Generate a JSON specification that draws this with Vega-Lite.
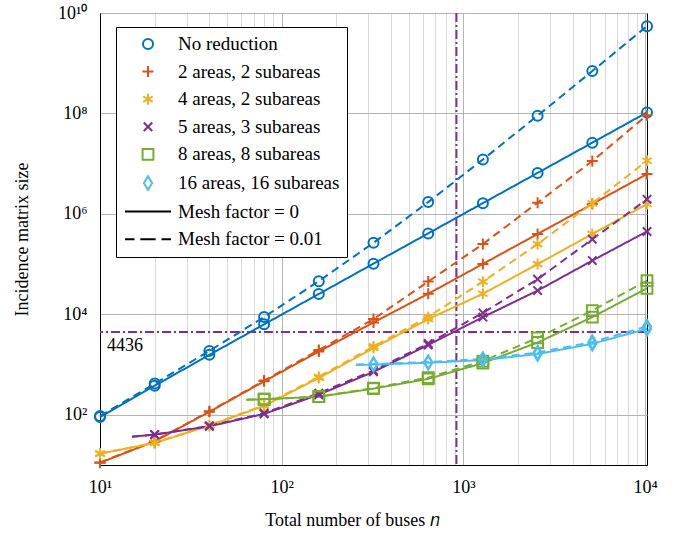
{
  "$schema": "https://vega.github.io/schema/vega-lite/v6.json",
  "width": 547,
  "height": 452,
  "autosize": {"type": "none"},
  "padding": {"left": 100, "top": 13, "right": 41, "bottom": 71},
  "background": "white",
  "config": {
    "view": {"stroke": "black", "strokeWidth": 1},
    "axis": {
      "labelFontSize": 18,
      "labelColor": "black",
      "titleFontSize": 18,
      "titleFontWeight": "normal",
      "titleColor": "black",
      "domainColor": "black",
      "ticks": false,
      "labelOverlap": false,
      "labelFlush": false,
      "labelBound": false
    }
  },
  "datasets": {
    "curves": [
      {"s": "No reduction", "m": "0", "n": 10, "v": 90, "k": 1},
      {"s": "No reduction", "m": "0", "n": 20, "v": 380, "k": 1},
      {"s": "No reduction", "m": "0", "n": 40, "v": 1560, "k": 1},
      {"s": "No reduction", "m": "0", "n": 80, "v": 6320, "k": 1},
      {"s": "No reduction", "m": "0", "n": 160, "v": 25440, "k": 1},
      {"s": "No reduction", "m": "0", "n": 320, "v": 102080, "k": 1},
      {"s": "No reduction", "m": "0", "n": 640, "v": 408960, "k": 1},
      {"s": "No reduction", "m": "0", "n": 1280, "v": 1637120, "k": 1},
      {"s": "No reduction", "m": "0", "n": 2560, "v": 6551040, "k": 1},
      {"s": "No reduction", "m": "0", "n": 5120, "v": 26209280, "k": 1},
      {"s": "No reduction", "m": "0", "n": 10240, "v": 104847360, "k": 1},
      {"s": "No reduction", "m": "0.01", "n": 10, "v": 94.5, "k": 1},
      {"s": "No reduction", "m": "0.01", "n": 20, "v": 418, "k": 1},
      {"s": "No reduction", "m": "0.01", "n": 40, "v": 1872, "k": 1},
      {"s": "No reduction", "m": "0.01", "n": 80, "v": 8848, "k": 1},
      {"s": "No reduction", "m": "0.01", "n": 160, "v": 45792, "k": 1},
      {"s": "No reduction", "m": "0.01", "n": 320, "v": 265408, "k": 1},
      {"s": "No reduction", "m": "0.01", "n": 640, "v": 1717632, "k": 1},
      {"s": "No reduction", "m": "0.01", "n": 1280, "v": 12114688, "k": 1},
      {"s": "No reduction", "m": "0.01", "n": 2560, "v": 90404352, "k": 1},
      {"s": "No reduction", "m": "0.01", "n": 5120, "v": 697166848, "k": 1},
      {"s": "No reduction", "m": "0.01", "n": 10240, "v": 5473032192, "k": 1},

      {"s": "2 areas, 2 subareas", "m": "0", "n": 10, "v": 11.1, "k": 1},
      {"s": "2 areas, 2 subareas", "m": "0", "n": 20, "v": 29.5, "k": 1},
      {"s": "2 areas, 2 subareas", "m": "0", "n": 40, "v": 115, "k": 1},
      {"s": "2 areas, 2 subareas", "m": "0", "n": 80, "v": 463, "k": 1},
      {"s": "2 areas, 2 subareas", "m": "0", "n": 160, "v": 1820, "k": 1},
      {"s": "2 areas, 2 subareas", "m": "0", "n": 320, "v": 6900, "k": 1},
      {"s": "2 areas, 2 subareas", "m": "0", "n": 640, "v": 25700, "k": 1},
      {"s": "2 areas, 2 subareas", "m": "0", "n": 1280, "v": 101000, "k": 1},
      {"s": "2 areas, 2 subareas", "m": "0", "n": 2560, "v": 398000, "k": 1},
      {"s": "2 areas, 2 subareas", "m": "0", "n": 5120, "v": 1575000, "k": 1},
      {"s": "2 areas, 2 subareas", "m": "0", "n": 10240, "v": 6210000, "k": 1},
      {"s": "2 areas, 2 subareas", "m": "0.01", "n": 10, "v": 11.2, "k": 1},
      {"s": "2 areas, 2 subareas", "m": "0.01", "n": 20, "v": 30.2, "k": 1},
      {"s": "2 areas, 2 subareas", "m": "0.01", "n": 40, "v": 117, "k": 1},
      {"s": "2 areas, 2 subareas", "m": "0.01", "n": 80, "v": 479, "k": 1},
      {"s": "2 areas, 2 subareas", "m": "0.01", "n": 160, "v": 1950, "k": 1},
      {"s": "2 areas, 2 subareas", "m": "0.01", "n": 320, "v": 8040, "k": 1},
      {"s": "2 areas, 2 subareas", "m": "0.01", "n": 640, "v": 45000, "k": 1},
      {"s": "2 areas, 2 subareas", "m": "0.01", "n": 1280, "v": 251000, "k": 1},
      {"s": "2 areas, 2 subareas", "m": "0.01", "n": 2560, "v": 1670000, "k": 1},
      {"s": "2 areas, 2 subareas", "m": "0.01", "n": 5120, "v": 11270000, "k": 1},
      {"s": "2 areas, 2 subareas", "m": "0.01", "n": 10240, "v": 92500000, "k": 1},

      {"s": "4 areas, 2 subareas", "m": "0", "n": 10, "v": 16.8, "k": 1},
      {"s": "4 areas, 2 subareas", "m": "0", "n": 20, "v": 27.5, "k": 1},
      {"s": "4 areas, 2 subareas", "m": "0", "n": 40, "v": 60.7, "k": 1},
      {"s": "4 areas, 2 subareas", "m": "0", "n": 80, "v": 151, "k": 1},
      {"s": "4 areas, 2 subareas", "m": "0", "n": 160, "v": 540, "k": 1},
      {"s": "4 areas, 2 subareas", "m": "0", "n": 320, "v": 2140, "k": 1},
      {"s": "4 areas, 2 subareas", "m": "0", "n": 640, "v": 8040, "k": 1},
      {"s": "4 areas, 2 subareas", "m": "0", "n": 1280, "v": 25700, "k": 1},
      {"s": "4 areas, 2 subareas", "m": "0", "n": 2560, "v": 100000, "k": 1},
      {"s": "4 areas, 2 subareas", "m": "0", "n": 5120, "v": 398000, "k": 1},
      {"s": "4 areas, 2 subareas", "m": "0", "n": 10240, "v": 1574000, "k": 1},
      {"s": "4 areas, 2 subareas", "m": "0.01", "n": 10, "v": 16.9, "k": 1},
      {"s": "4 areas, 2 subareas", "m": "0.01", "n": 20, "v": 27.8, "k": 1},
      {"s": "4 areas, 2 subareas", "m": "0.01", "n": 40, "v": 61.5, "k": 1},
      {"s": "4 areas, 2 subareas", "m": "0.01", "n": 80, "v": 155, "k": 1},
      {"s": "4 areas, 2 subareas", "m": "0.01", "n": 160, "v": 570, "k": 1},
      {"s": "4 areas, 2 subareas", "m": "0.01", "n": 320, "v": 2290, "k": 1},
      {"s": "4 areas, 2 subareas", "m": "0.01", "n": 640, "v": 8900, "k": 1},
      {"s": "4 areas, 2 subareas", "m": "0.01", "n": 1280, "v": 44700, "k": 1},
      {"s": "4 areas, 2 subareas", "m": "0.01", "n": 2560, "v": 251000, "k": 1},
      {"s": "4 areas, 2 subareas", "m": "0.01", "n": 5120, "v": 1625000, "k": 1},
      {"s": "4 areas, 2 subareas", "m": "0.01", "n": 10240, "v": 11430000, "k": 1},

      {"s": "5 areas, 3 subareas", "m": "0", "n": 15, "v": 36.7, "k": 0},
      {"s": "5 areas, 3 subareas", "m": "0", "n": 20, "v": 40.3, "k": 1},
      {"s": "5 areas, 3 subareas", "m": "0", "n": 40, "v": 58.9, "k": 1},
      {"s": "5 areas, 3 subareas", "m": "0", "n": 80, "v": 104, "k": 1},
      {"s": "5 areas, 3 subareas", "m": "0", "n": 160, "v": 251, "k": 1},
      {"s": "5 areas, 3 subareas", "m": "0", "n": 320, "v": 716, "k": 1},
      {"s": "5 areas, 3 subareas", "m": "0", "n": 640, "v": 2455, "k": 1},
      {"s": "5 areas, 3 subareas", "m": "0", "n": 1280, "v": 8790, "k": 1},
      {"s": "5 areas, 3 subareas", "m": "0", "n": 2560, "v": 29700, "k": 1},
      {"s": "5 areas, 3 subareas", "m": "0", "n": 5120, "v": 117500, "k": 1},
      {"s": "5 areas, 3 subareas", "m": "0", "n": 10240, "v": 446700, "k": 1},
      {"s": "5 areas, 3 subareas", "m": "0.01", "n": 15, "v": 36.7, "k": 0},
      {"s": "5 areas, 3 subareas", "m": "0.01", "n": 20, "v": 40.3, "k": 1},
      {"s": "5 areas, 3 subareas", "m": "0.01", "n": 40, "v": 60.3, "k": 1},
      {"s": "5 areas, 3 subareas", "m": "0.01", "n": 80, "v": 107, "k": 1},
      {"s": "5 areas, 3 subareas", "m": "0.01", "n": 160, "v": 269, "k": 1},
      {"s": "5 areas, 3 subareas", "m": "0.01", "n": 320, "v": 760, "k": 1},
      {"s": "5 areas, 3 subareas", "m": "0.01", "n": 640, "v": 2630, "k": 1},
      {"s": "5 areas, 3 subareas", "m": "0.01", "n": 1280, "v": 10700, "k": 1},
      {"s": "5 areas, 3 subareas", "m": "0.01", "n": 2560, "v": 50100, "k": 1},
      {"s": "5 areas, 3 subareas", "m": "0.01", "n": 5120, "v": 312600, "k": 1},
      {"s": "5 areas, 3 subareas", "m": "0.01", "n": 10240, "v": 1950000, "k": 1},

      {"s": "8 areas, 8 subareas", "m": "0", "n": 64, "v": 200, "k": 0},
      {"s": "8 areas, 8 subareas", "m": "0", "n": 80, "v": 204, "k": 1},
      {"s": "8 areas, 8 subareas", "m": "0", "n": 160, "v": 229, "k": 1},
      {"s": "8 areas, 8 subareas", "m": "0", "n": 320, "v": 331, "k": 1},
      {"s": "8 areas, 8 subareas", "m": "0", "n": 640, "v": 519, "k": 1},
      {"s": "8 areas, 8 subareas", "m": "0", "n": 1280, "v": 1070, "k": 1},
      {"s": "8 areas, 8 subareas", "m": "0", "n": 2560, "v": 2750, "k": 1},
      {"s": "8 areas, 8 subareas", "m": "0", "n": 5120, "v": 8790, "k": 1},
      {"s": "8 areas, 8 subareas", "m": "0", "n": 10240, "v": 33100, "k": 1},
      {"s": "8 areas, 8 subareas", "m": "0.01", "n": 64, "v": 200, "k": 0},
      {"s": "8 areas, 8 subareas", "m": "0.01", "n": 80, "v": 204, "k": 1},
      {"s": "8 areas, 8 subareas", "m": "0.01", "n": 160, "v": 229, "k": 1},
      {"s": "8 areas, 8 subareas", "m": "0.01", "n": 320, "v": 339, "k": 1},
      {"s": "8 areas, 8 subareas", "m": "0.01", "n": 640, "v": 550, "k": 1},
      {"s": "8 areas, 8 subareas", "m": "0.01", "n": 1280, "v": 1175, "k": 1},
      {"s": "8 areas, 8 subareas", "m": "0.01", "n": 2560, "v": 3390, "k": 1},
      {"s": "8 areas, 8 subareas", "m": "0.01", "n": 5120, "v": 11900, "k": 1},
      {"s": "8 areas, 8 subareas", "m": "0.01", "n": 10240, "v": 46800, "k": 1},

      {"s": "16 areas, 16 subareas", "m": "0", "n": 256, "v": 977, "k": 0},
      {"s": "16 areas, 16 subareas", "m": "0", "n": 320, "v": 1000, "k": 1},
      {"s": "16 areas, 16 subareas", "m": "0", "n": 640, "v": 1084, "k": 1},
      {"s": "16 areas, 16 subareas", "m": "0", "n": 1280, "v": 1230, "k": 1},
      {"s": "16 areas, 16 subareas", "m": "0", "n": 2560, "v": 1620, "k": 1},
      {"s": "16 areas, 16 subareas", "m": "0", "n": 5120, "v": 2594, "k": 1},
      {"s": "16 areas, 16 subareas", "m": "0", "n": 10240, "v": 5130, "k": 1},
      {"s": "16 areas, 16 subareas", "m": "0.01", "n": 256, "v": 1000, "k": 0},
      {"s": "16 areas, 16 subareas", "m": "0.01", "n": 320, "v": 1023, "k": 1},
      {"s": "16 areas, 16 subareas", "m": "0.01", "n": 640, "v": 1122, "k": 1},
      {"s": "16 areas, 16 subareas", "m": "0.01", "n": 1280, "v": 1288, "k": 1},
      {"s": "16 areas, 16 subareas", "m": "0.01", "n": 2560, "v": 1738, "k": 1},
      {"s": "16 areas, 16 subareas", "m": "0.01", "n": 5120, "v": 2818, "k": 1},
      {"s": "16 areas, 16 subareas", "m": "0.01", "n": 10240, "v": 5750, "k": 1}
    ],
    "vline": [{"n": 915}],
    "hline": [{"v": 4436, "n": 10, "label": "4436"}]
  },
  "encoding": {
    "x": {
      "field": "n", "type": "quantitative",
      "scale": {"type": "log", "domain": [10, 10240], "nice": false},
      "axis": {
        "title": "Total number of buses 𝑛",
        "titleFont": "Times New Roman",
        "labelFont": "Times New Roman",
        "titleX": 252,
        "values": [10, 20, 30, 40, 50, 60, 70, 80, 90, 100, 200, 300, 400, 500, 600, 700, 800, 900, 1000, 2000, 3000, 4000, 5000, 6000, 7000, 8000, 9000, 10000],
        "labelExpr": "datum.value == 10 ? '10¹' : datum.value == 100 ? '10²' : datum.value == 1000 ? '10³' : datum.value == 10000 ? '10⁴' : ''",
        "grid": true,
        "gridColor": {"condition": {"test": "datum.value == 10 || datum.value == 100 || datum.value == 1000 || datum.value == 10000", "value": "#b4b4b4"}, "value": "#d9d9d9"},
        "gridWidth": 1,
        "labelPadding": 13,
        "titlePadding": 15
      }
    },
    "y": {
      "field": "v", "type": "quantitative",
      "scale": {"type": "log", "domain": [10, 10000000000], "nice": false},
      "axis": {
        "title": "Incidence matrix size",
        "titleFont": "Times New Roman",
        "labelFont": "Times New Roman",
        "values": [100, 10000, 1000000, 100000000, 10000000000],
        "labelExpr": "datum.value == 100 ? '10²' : datum.value == 10000 ? '10⁴' : datum.value == 1000000 ? '10⁶' : datum.value == 100000000 ? '10⁸' : '10¹⁰'",
        "grid": true,
        "gridColor": "#b4b4b4",
        "labelPadding": 13,
        "titlePadding": 26
      }
    }
  },
  "layer": [
    {
      "data": {"name": "hline"},
      "mark": {"type": "rule", "color": "#7E2F8E", "strokeWidth": 2, "strokeDash": [9, 3, 2, 3]},
      "encoding": {"x": null}
    },
    {
      "data": {"name": "vline"},
      "mark": {"type": "rule", "color": "#7E2F8E", "strokeWidth": 2, "strokeDash": [9, 3, 2, 3]},
      "encoding": {"y": null}
    },
    {
      "data": {"name": "curves"},
      "mark": {"type": "line", "strokeWidth": 2},
      "encoding": {
        "stroke": {
          "field": "s", "type": "nominal", "legend": null,
          "scale": {
            "domain": ["No reduction", "2 areas, 2 subareas", "4 areas, 2 subareas", "5 areas, 3 subareas", "8 areas, 8 subareas", "16 areas, 16 subareas"],
            "range": ["#0072BD", "#D95319", "#EDB120", "#7E2F8E", "#77AC30", "#4DBEEE"]
          }
        },
        "strokeDash": {"field": "m", "type": "nominal", "legend": null, "scale": {"domain": ["0", "0.01"], "range": [[1, 0], [8, 5]]}}
      }
    },
    {
      "data": {"name": "curves"},
      "transform": [{"filter": "datum.k == 1"}],
      "mark": {"type": "point", "filled": false, "strokeWidth": 2, "size": 324, "opacity": 1},
      "encoding": {
        "color": {
          "field": "s", "type": "nominal",
          "scale": {
            "domain": ["No reduction", "2 areas, 2 subareas", "4 areas, 2 subareas", "5 areas, 3 subareas", "8 areas, 8 subareas", "16 areas, 16 subareas", "Mesh factor = 0", "Mesh factor = 0.01"],
            "range": ["#0072BD", "#D95319", "#EDB120", "#7E2F8E", "#77AC30", "#4DBEEE", "#000000", "#000000"]
          },
          "legend": {
            "title": null,
            "orient": "none",
            "legendX": 16,
            "legendY": 14,
            "padding": 7,
            "rowPadding": 7.6,
            "symbolOffset": 15,
            "labelOffset": 20,
            "symbolSize": 324,
            "symbolStrokeWidth": 2,
            "labelFont": "Times New Roman",
            "labelFontSize": 19,
            "labelColor": "black",
            "labelLimit": 0,
            "labelExpr": "datum.label + '\u00a0\u00a0'",
            "strokeColor": "black",
            "fillColor": "white"
          }
        },
        "shape": {
          "field": "s", "type": "nominal",
          "scale": {
            "domain": ["No reduction", "2 areas, 2 subareas", "4 areas, 2 subareas", "5 areas, 3 subareas", "8 areas, 8 subareas", "16 areas, 16 subareas", "Mesh factor = 0", "Mesh factor = 0.01"],
            "range": [
              "M0.556,0C0.556,0.307 0.307,0.556 0,0.556C-0.307,0.556 -0.556,0.307 -0.556,0C-0.556,-0.307 -0.307,-0.556 0,-0.556C0.307,-0.556 0.556,-0.307 0.556,0Z",
              "M-0.611,0H0.611M0,-0.611V0.611",
              "M0,-0.611V0.611M-0.529,-0.306L0.529,0.306M-0.529,0.306L0.529,-0.306",
              "M-0.47,-0.47L0.47,0.47M-0.47,0.47L0.47,-0.47",
              "M-0.6,-0.6H0.6V0.6H-0.6Z",
              "M0,-0.75L0.45,0L0,0.75L-0.45,0Z",
              "M-2.556,0H2.556",
              "M-2.556,0H-1.5M-0.85,0H0.85M1.5,0H2.556"
            ]
          },
          "legend": {
            "title": null,
            "orient": "none",
            "legendX": 16,
            "legendY": 14,
            "padding": 7,
            "rowPadding": 7.6,
            "symbolOffset": 15,
            "labelOffset": 20,
            "symbolSize": 324,
            "symbolStrokeWidth": 2,
            "labelFont": "Times New Roman",
            "labelFontSize": 19,
            "labelColor": "black",
            "labelLimit": 0,
            "labelExpr": "datum.label + '\u00a0\u00a0'",
            "strokeColor": "black",
            "fillColor": "white"
          }
        }
      }
    },
    {
      "data": {"name": "hline"},
      "mark": {"type": "text", "align": "left", "baseline": "middle", "dx": 7, "dy": 14, "fontSize": 18, "font": "Times New Roman", "color": "black"},
      "encoding": {"text": {"field": "label"}}
    }
  ]
}
